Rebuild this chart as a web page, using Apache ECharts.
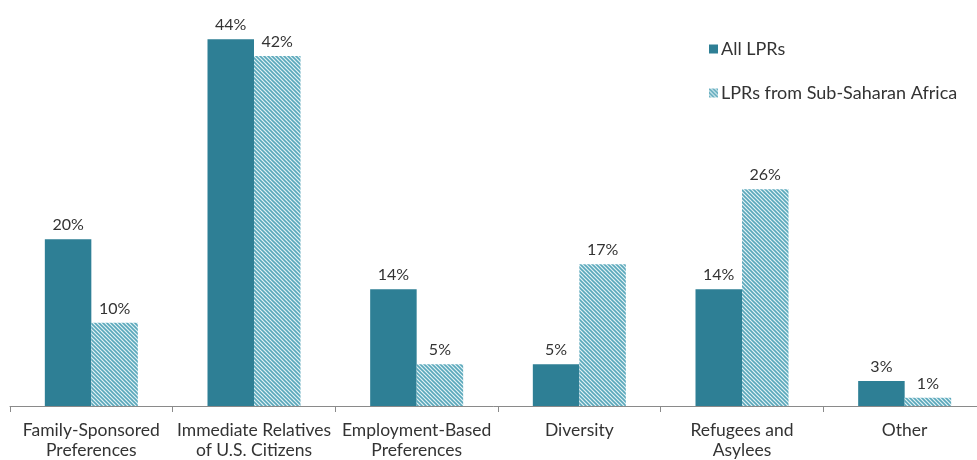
<!DOCTYPE html>
<html>
<head>
<meta charset="utf-8">
<script src="https://cdn.jsdelivr.net/npm/echarts@6/dist/echarts.min.js"></script>
<style>
  html, body { margin: 0; padding: 0; background: #fff; }
  #chart { width: 977px; height: 460px; }
</style>
</head>
<body>
<div id="chart"></div>
<script>
// Admission classes of lawful permanent residents (share of each group, %)
const categories = [
  'Family-Sponsored\nPreferences',
  'Immediate Relatives\nof U.S. Citizens',
  'Employment-Based\nPreferences',
  'Diversity',
  'Refugees and\nAsylees',
  'Other'
];
const allLPRs = [20, 44, 14, 5, 14, 3];
const subSaharanLPRs = [10, 42, 5, 17, 26, 1];
const seriesNames = ['All LPRs', 'LPRs from Sub-Saharan Africa'];

// Diagonal hatch fill for the second series
function hatchPattern() {
  const c = document.createElement('canvas');
  c.width = 4; c.height = 4;
  const g = c.getContext('2d');
  g.fillStyle = '#e3f2f5';
  g.fillRect(0, 0, 4, 4);
  g.strokeStyle = '#5aa8bb';
  g.lineWidth = 1.6;
  g.beginPath();
  g.moveTo(-1, -1); g.lineTo(5, 5);
  g.moveTo(-1, 3); g.lineTo(1, 5);
  g.moveTo(3, -1); g.lineTo(5, 1);
  g.stroke();
  return c;
}

const font = 'Lato, "Open Sans", sans-serif';
const chart = echarts.init(document.getElementById('chart'), null, { renderer: 'canvas' });

const valueLabel = {
  show: true,
  position: 'top',
  distance: 6,
  formatter: '{c}%',
  fontSize: 16,
  color: '#333',
  fontFamily: font
};

chart.setOption({
  animation: false,
  textStyle: { fontFamily: font },
  grid: {
    left: 10, width: 976, top: 6, bottom: 54,
    containLabel: false,
    outerBoundsMode: 'none'
  },
  legend: {
    orient: 'vertical',
    left: 704,
    top: 35,
    itemGap: 26,
    itemWidth: 9,
    itemHeight: 9,
    icon: 'rect',
    textStyle: { fontSize: 18, color: '#333', fontFamily: font, padding: [0, 0, 0, -2] },
    data: seriesNames
  },
  xAxis: {
    type: 'category',
    data: categories,
    axisLine: { lineStyle: { color: '#8a8a8a', width: 1 } },
    axisTick: { show: true, length: 6, lineStyle: { color: '#8a8a8a' } },
    axisLabel: {
      fontSize: 17.5,
      color: '#333',
      margin: 15,
      lineHeight: 19.5,
      interval: 0,
      fontFamily: font
    }
  },
  yAxis: {
    type: 'value',
    min: 0,
    max: 48,
    show: false,
    splitLine: { show: false }
  },
  series: [
    {
      name: seriesNames[0],
      type: 'bar',
      data: allLPRs,
      barWidth: 46.5,
      barGap: '0%',
      itemStyle: { color: '#2e7f95' },
      label: valueLabel
    },
    {
      name: seriesNames[1],
      type: 'bar',
      data: subSaharanLPRs,
      barWidth: 46.5,
      barGap: '0%',
      itemStyle: { color: { image: hatchPattern(), repeat: 'repeat' } },
      label: valueLabel
    }
  ]
});
</script>
</body>
</html>
